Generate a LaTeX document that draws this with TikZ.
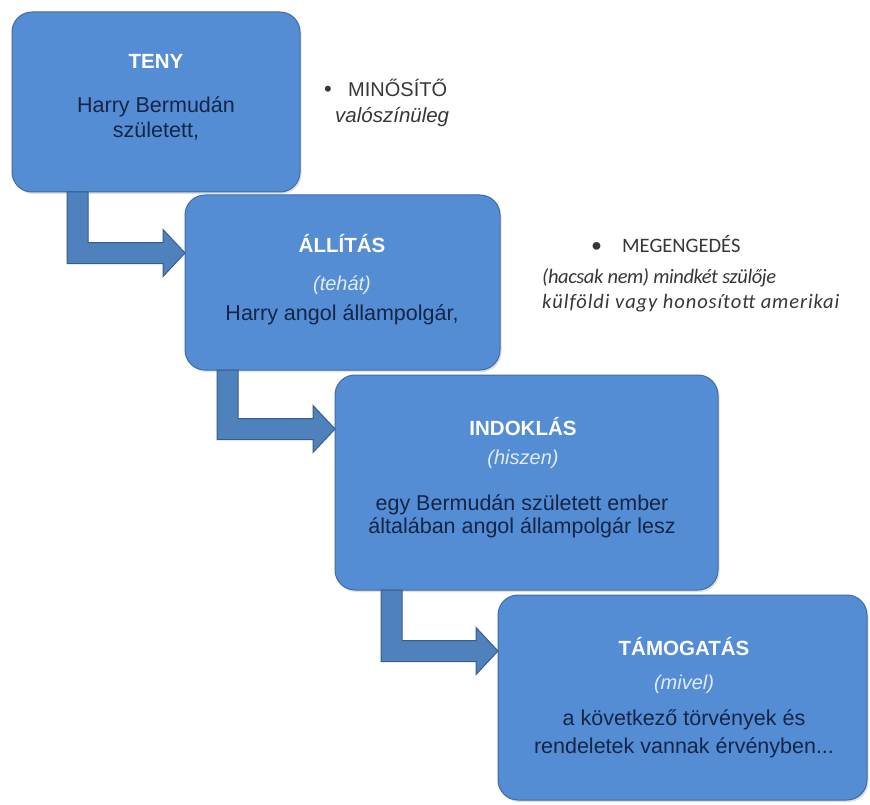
\documentclass[tikz,border=0pt]{standalone}
\usepackage{fontspec}
\setmainfont{Liberation Sans}
\newfontfamily\calfont{Carlito}
\usetikzlibrary{calc,shadows}
\definecolor{boxfill}{RGB}{84,141,212}
\definecolor{boxline}{RGB}{62,108,166}
\definecolor{arrfill}{RGB}{79,129,189}
\definecolor{arrline}{RGB}{56,93,138}
\definecolor{bodytext}{RGB}{20,38,72}
\definecolor{subtext}{RGB}{225,235,250}
\definecolor{notetext}{RGB}{55,55,55}
\tikzset{
  card/.style={draw=boxline, line width=1pt, fill=boxfill, rounded corners=20pt,
    inner sep=0pt, outer sep=0pt,
    drop shadow={opacity=0.25, shadow xshift=1.5pt, shadow yshift=-2pt}},
  title/.style={anchor=base, text=white, font=\fontsize{20.5}{24}\selectfont\bfseries, inner sep=0pt},
  sub/.style={anchor=base, text=subtext, font=\fontsize{20}{24}\selectfont\itshape, inner sep=0pt},
  body/.style={anchor=base, text=bodytext, font=\fontsize{21.5}{26}\selectfont, inner sep=0pt},
  note/.style={anchor=base west, text=notetext, font=\fontsize{20}{24}\selectfont, inner sep=0pt},
  calnote/.style={anchor=base west, text=notetext, font=\calfont\fontsize{20.5}{24}\selectfont, inner sep=0pt},
  arr/.style={draw=arrline, fill=arrfill, line width=1pt, line join=miter}
}
% bent arrow: #1 from node, #2 to node, #3 stem offset from #1.south west, #4 tip offset below #2.north west
\newcommand{\bentarrow}[4]{%
  \coordinate (#1-s) at ($(#1.south west)+(#3,0)$);
  \coordinate (#2-t) at ($(#2.north west)+(0,#4)$);
  \draw[arr] (#1-s) -- ++(21,0) |- ($(#2-t)+(-22,-10.5)$) -- ++(0,-13) -- (#2-t)
    -- ++(-22,23.5) -- ++(0,-13) -| (#1-s) -- cycle;
}
\begin{document}
\begin{tikzpicture}[x=1pt,y=-1pt]
\useasboundingbox (0,0) rectangle (870,805);
\fill[white] (0,0) rectangle (870,805);

% boxes
\node[card, minimum width=288, minimum height=180] (b1) at (156,102) {};
\node[card, minimum width=315, minimum height=175] (b2) at (342.5,282.5) {};
\node[card, minimum width=383, minimum height=215] (b3) at (526.5,482.5) {};
\node[card, minimum width=369, minimum height=205] (b4) at (682.5,697.5) {};

% connectors
\bentarrow{b1}{b2}{55}{58}
\bentarrow{b2}{b3}{32}{54}
\bentarrow{b3}{b4}{46}{56}

% box 1
\node[title] (t1) at (156,69) {TENY};
\node[body] (t1a) at (156,113) {Harry Bermudán};
\node[body] (t1b) at (156,138) {született,};

% box 2
\node[title] (t2) at (342,252) {ÁLLÍTÁS};
\node[sub] (s2) at (342,290) {(tehát)};
\node[body] (t2a) at (342,320) {Harry angol állampolgár,};

% box 3
\node[title] (t3) at (523,435) {INDOKLÁS};
\node[sub] (s3) at (523,464) {(hiszen)};
\node[body] (t3a) at (522,510) {egy Bermudán született ember};
\node[body] (t3b) at (522,533) {általában angol állampolgár lesz};

% box 4
\node[title] (t4) at (684,655) {TÁMOGATÁS};
\node[sub] (s4) at (684,689) {(mivel)};
\node[body] (t4a) at (684,725) {a következő törvények és};
\node[body] (t4b) at (684,753) {rendeletek vannak érvényben...};

% notes
\node[note, font=\fontsize{22}{24}\selectfont] (m0) at (324,97) {\textbullet};
\node[note] (m1) at (348,97) {MINŐSÍTŐ};
\node[note, font=\fontsize{20.5}{24}\selectfont\itshape] (m2) at (335,123) {valószínüleg};

\node[calnote, font=\calfont\fontsize{22}{24}\selectfont] (g0) at (591,252) {\textbullet};
\node[calnote] (g1) at (622,252) {MEGENGEDÉS};
\node[calnote, font=\calfont\fontsize{20.5}{24}\selectfont\itshape\addfontfeature{LetterSpace=-2}] (g2) at (542,283) {(hacsak nem) mindkét szülője};
\node[calnote, font=\calfont\fontsize{20.5}{24}\selectfont\itshape\addfontfeature{LetterSpace=4.5}] (g3) at (542,308) {külföldi vagy honosított amerikai};
\end{tikzpicture}
\end{document}
